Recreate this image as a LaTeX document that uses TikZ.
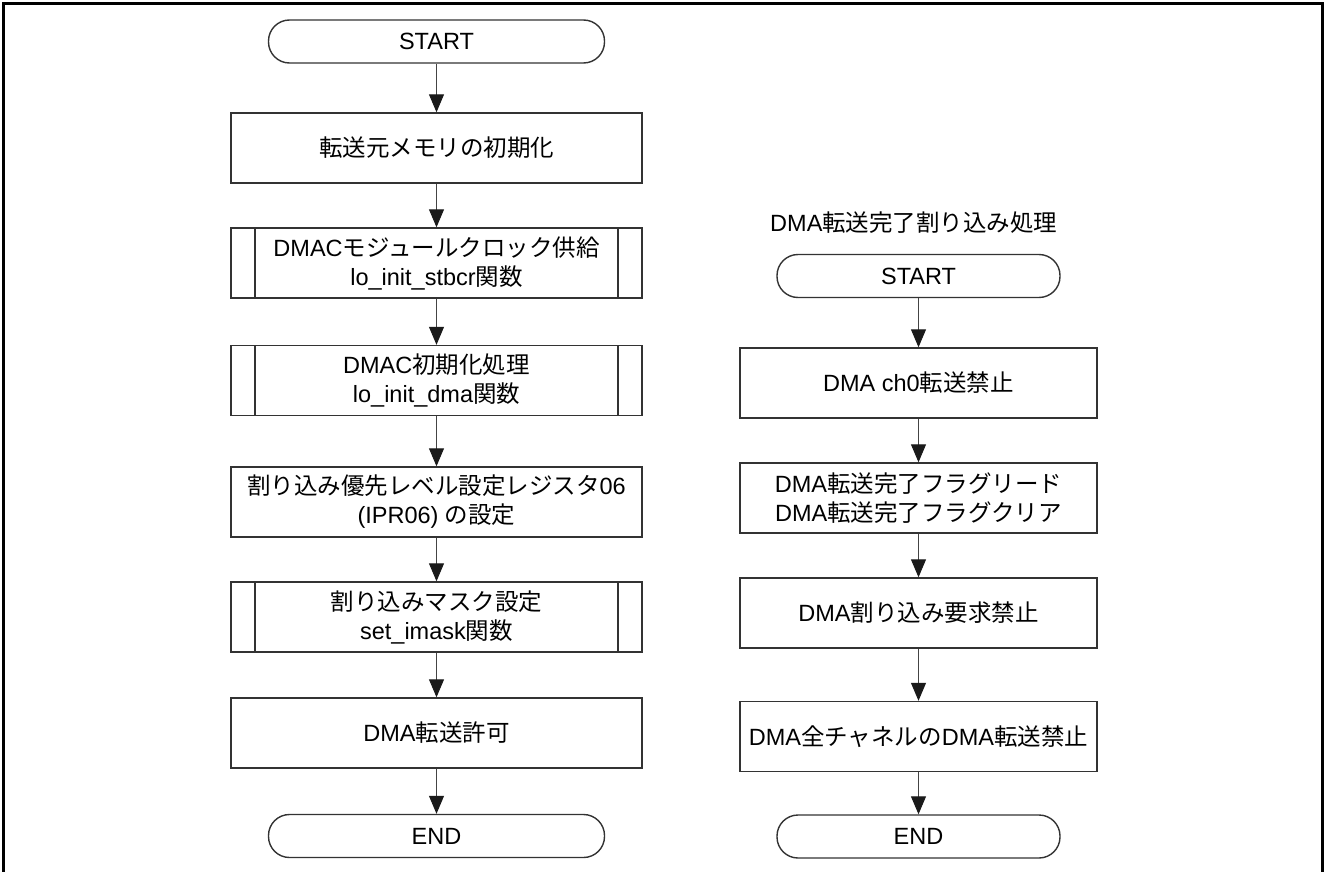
\documentclass[tikz,border=0pt]{standalone}
\usepackage{fontspec}
\setmainfont{Liberation Sans}
\newfontfamily\jpfont{Noto Sans CJK JP}
\newcommand{\jp}[1]{{\jpfont #1}}
\usetikzlibrary{arrows.meta}
\definecolor{linec}{HTML}{333333}
\definecolor{arrc}{HTML}{444444}
\definecolor{tipc}{HTML}{1a1a1a}
\begin{document}
\begin{tikzpicture}[x=1pt,y=-1pt,
  every node/.style={font=\fontsize{23.5}{29}\selectfont, text=black},
  box/.style={draw=linec, line width=1.4pt, rectangle, inner sep=0pt, align=center,
    minimum width=411pt, minimum height=70pt},
  subbox/.style={box, path picture={
    \draw[linec, line width=1.4pt] ([xshift=24pt]path picture bounding box.north west) -- ([xshift=24pt]path picture bounding box.south west);
    \draw[linec, line width=1.4pt] ([xshift=-24pt]path picture bounding box.north east) -- ([xshift=-24pt]path picture bounding box.south east);}},
  term/.style={draw=linec, line width=1.4pt, rectangle, rounded corners=21pt, inner sep=0pt,
    minimum width=336pt, minimum height=43pt},
  arr/.style={draw=arrc, line width=1pt, -{Triangle[width=15pt,length=18pt,color=tipc,fill=tipc]}},
  title/.style={anchor=west, inner sep=0pt}]
\useasboundingbox (0,0) rectangle (1325,872);
\draw[black, line width=3pt] (3,890) -- (3,4) -- (1322.5,4) -- (1322.5,890);

% left column
\node[term] (ls) at (436.5,41.5) {START};
\node[box] (l1) at (436.5,148) {\jp{転送元メモリの初期化}};
\node[subbox] (l2) at (436.5,263) {DMAC\jp{モジュールクロック供給}\\lo\_init\_stbcr\jp{関数}};
\node[subbox] (l3) at (436.5,380.5) {DMAC\jp{初期化処理}\\lo\_init\_dma\jp{関数}};
\node[box] (l4) at (436.5,502) {\jp{割り込み優先レベル設定レジスタ}06\\(IPR06) \jp{の設定}};
\node[subbox] (l5) at (436.5,617) {\jp{割り込みマスク設定}\\set\_imask\jp{関数}};
\node[box] (l6) at (436.5,733) {DMA\jp{転送許可}};
\node[term] (le) at (436.5,836) {END};

\draw[arr] (ls) -- (l1);
\draw[arr] (l1) -- (l2);
\draw[arr] (l2) -- (l3);
\draw[arr] (l3) -- (l4);
\draw[arr] (l4) -- (l5);
\draw[arr] (l5) -- (l6);
\draw[arr] (l6) -- (le);

% right column
\node[title] (rt) at (770,223) {DMA\jp{転送完了割り込み処理}};
\node[term, minimum width=283pt] (rs) at (918.5,276) {START};
\node[box, minimum width=357pt] (r1) at (918.5,383) {DMA ch0\jp{転送禁止}};
\node[box, minimum width=357pt] (r2) at (918.5,498) {DMA\jp{転送完了フラグリード}\\DMA\jp{転送完了フラグクリア}};
\node[box, minimum width=357pt] (r3) at (918.5,613) {DMA\jp{割り込み要求禁止}};
\node[box, minimum width=357pt] (r4) at (918.5,736.5) {DMA\jp{全チャネルの}DMA\jp{転送禁止}};
\node[term, minimum width=283pt] (re) at (918.5,836.5) {END};

\draw[arr] (rs) -- (r1);
\draw[arr] (r1) -- (r2);
\draw[arr] (r2) -- (r3);
\draw[arr] (r3) -- (r4);
\draw[arr] (r4) -- (re);
\end{tikzpicture}
\end{document}
